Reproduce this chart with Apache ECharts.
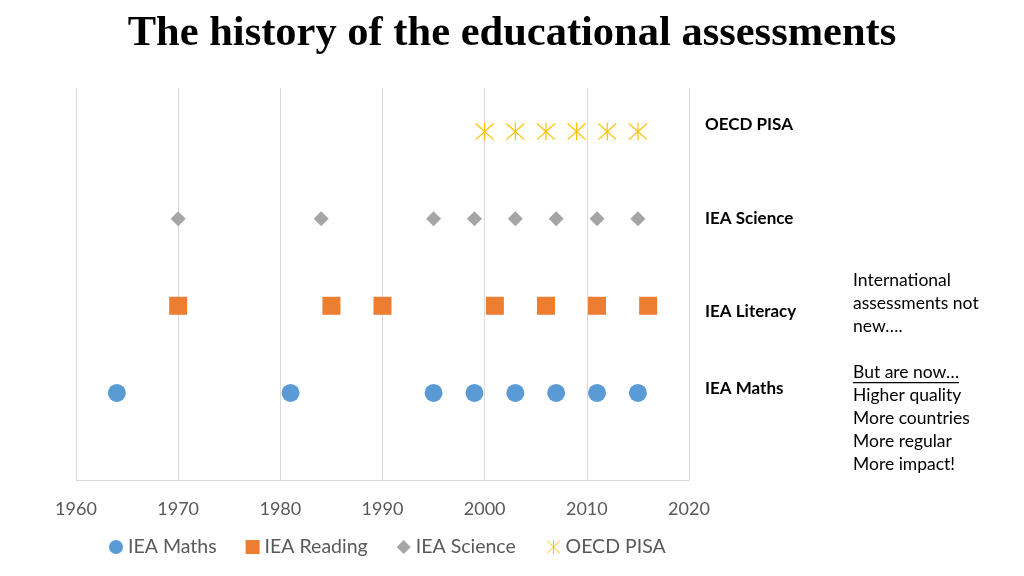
<!DOCTYPE html>
<html><head><meta charset="utf-8">
<script src="https://cdn.jsdelivr.net/npm/echarts@6/dist/echarts.min.js"></script>
<style>html,body{margin:0;padding:0;background:#fff}#c{width:1024px;height:576px}</style>
</head><body><div id="c"></div>
<script>
const seriesNames = ['IEA Maths','IEA Reading','IEA Science','OECD PISA'];
const rowLabels = ['IEA Maths','IEA Literacy','IEA Science','OECD PISA'];
const rowLevels = [1, 2, 3, 4];
const mathsYears = [1964, 1981, 1995, 1999, 2003, 2007, 2011, 2015];
const readingYears = [1970, 1985, 1990, 2001, 2006, 2011, 2016];
const scienceYears = [1970, 1984, 1995, 1999, 2003, 2007, 2011, 2015];
const pisaYears = [2000, 2003, 2006, 2009, 2012, 2015];
const xTicks = [1960, 1970, 1980, 1990, 2000, 2010, 2020];
const noteLines = ['International','assessments not','new….','','But are now…','Higher quality','More countries','More regular','More impact!'];

const starPath = 'path://M0,0 L18,18 M18,0 L0,18 M9,-1 L9,19';
const font = 'Lato, "Open Sans", sans-serif';

function pts(years, level){ return years.map(y => [y, level]); }

const chart = echarts.init(document.getElementById('c'));
const graphics = [];
const labelY = [388, 311, 218, 124];
rowLabels.forEach((t,i)=>{
  graphics.push({type:'text', left:705, top:labelY[i]-8, style:{text:t, font:'bold 17px '+font, fill:'#000'}});
});
noteLines.forEach((t,i)=>{
  if(!t) return;
  graphics.push({type:'text', left:853, top:271 + i*23, style:{text:t, font:'17.5px '+font, fill:'#000'}});
});
graphics.push({type:'rect', left:853, top:382, shape:{width:106, height:1.3}, style:{fill:'#000'}});

chart.setOption({
  animation:false,
  title:{text:'The history of the educational assessments', left:'center', top:8,
    textStyle:{fontFamily:'"Liberation Serif", serif', fontWeight:'bold', fontSize:42.5, color:'#000'}},
  grid:{left:76, right:335, top:88, bottom:96},
  legend:{bottom:14, left:104, itemWidth:14, itemHeight:14, itemGap:29,
    textStyle:{fontFamily:font, fontSize:19.5, color:'#595959'},
    data:[
      {name:'IEA Maths', icon:'circle'},
      {name:'IEA Reading', icon:'rect'},
      {name:'IEA Science', icon:'diamond'},
      {name:'OECD PISA', icon:starPath, itemStyle:{color:'none', borderColor:'#FFC000', borderWidth:1}}
    ]},
  xAxis:{type:'value', min:1960, max:2020, interval:10,
    axisLine:{show:true, lineStyle:{color:'#d9d9d9'}}, axisTick:{show:false},
    axisLabel:{fontFamily:font, fontSize:18, color:'#595959', margin:20, formatter: v => String(v)},
    splitLine:{show:true, lineStyle:{color:'#d9d9d9'}}},
  yAxis:{type:'value', min:0, max:4.5, show:false, splitLine:{show:false}},
  graphic:graphics,
  series:[
    {name:'IEA Maths', type:'scatter', symbol:'circle', symbolSize:18, itemStyle:{color:'#5B9BD5', opacity:1}, data:pts(mathsYears, rowLevels[0])},
    {name:'IEA Reading', type:'scatter', symbol:'rect', symbolSize:18, itemStyle:{color:'#ED7D31', opacity:1}, data:pts(readingYears, rowLevels[1])},
    {name:'IEA Science', type:'scatter', symbol:'diamond', symbolSize:15, itemStyle:{color:'#A5A5A5', opacity:1}, data:pts(scienceYears, rowLevels[2])},
    {name:'OECD PISA', type:'scatter', symbol:starPath, symbolSize:18, itemStyle:{color:'none', borderColor:'#FFC000', borderWidth:1.2, opacity:1}, data:pts(pisaYears, rowLevels[3])}
  ]
});
</script></body></html>
